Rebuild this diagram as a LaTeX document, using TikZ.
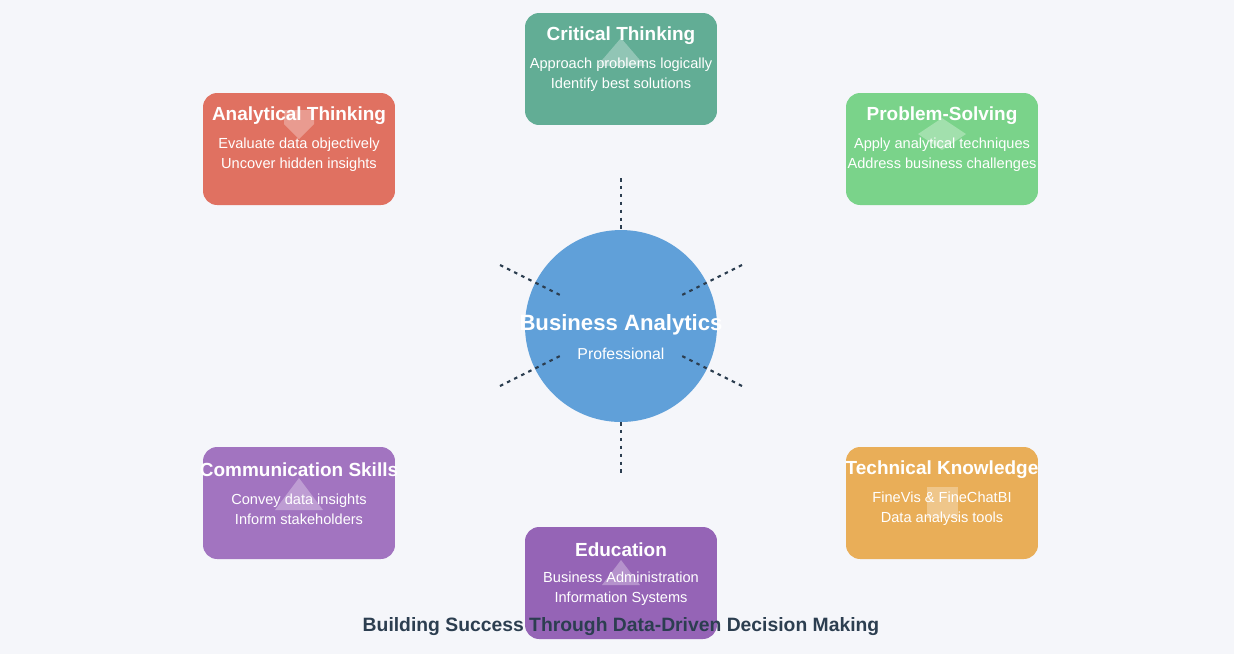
\documentclass[tikz,border=0pt]{standalone}
\usepackage{fontspec}
\setmainfont{Liberation Sans}
\usetikzlibrary{shapes.geometric}
\definecolor{bgcol}{HTML}{F5F6FA}
\definecolor{critcol}{HTML}{62AD95}
\definecolor{analcol}{HTML}{E07161}
\definecolor{probcol}{HTML}{7AD38A}
\definecolor{commcol}{HTML}{A274C0}
\definecolor{techcol}{HTML}{E9AE58}
\definecolor{educol}{HTML}{9564B6}
\definecolor{corecol}{HTML}{60A0D9}
\definecolor{darktext}{HTML}{2C3E50}
\tikzset{
  skillbox/.style={draw=none,fill=#1,rounded corners=8pt,minimum width=3.84cm,minimum height=2.24cm},
  ttl/.style={text=white,font=\fontsize{10.8}{13}\selectfont\bfseries},
  body/.style={text=white,font=\fontsize{8.3}{11.3}\selectfont,align=center},
  icon/.style={fill=white,fill opacity=0.3,draw=none},
  link/.style={draw=darktext,line width=1.2pt,dash pattern=on 2pt off 2.5pt}
}
\begin{document}
\begin{tikzpicture}[x=0.02cm,y=-0.02cm]
  \fill[bgcol] (0,0) rectangle (1234,654);
  \useasboundingbox (0,0) rectangle (1234,654);

  % centre
  \node[circle,fill=corecol,minimum size=3.84cm] (core) at (621,326) {};
  \node[ttl,font=\fontsize{12.6}{14}\selectfont\bfseries] (coretitle) at (621,325) {Business Analytics};
  \node[body,font=\fontsize{9}{11}\selectfont] (coresub) at (621,354) {Professional};

  % dotted spokes
  \coordinate (t1) at (621,178); \coordinate (t2) at (621,230);
  \coordinate (b1) at (621,422); \coordinate (b2) at (621,474);
  \coordinate (ul1) at (500,265); \coordinate (ul2) at (562,296);
  \coordinate (ur1) at (742,265); \coordinate (ur2) at (680,296);
  \coordinate (ll1) at (500,386); \coordinate (ll2) at (562,355);
  \coordinate (lr1) at (742,386); \coordinate (lr2) at (680,355);
  \foreach \a/\b in {t1/t2,b1/b2,ul1/ul2,ur1/ur2,ll1/ll2,lr1/lr2}
    \draw[link] (\a) -- (\b);

  % skill boxes
  \node[skillbox=critcol] (crit) at (621,69) {};
  \node[skillbox=analcol] (anal) at (299,149) {};
  \node[skillbox=probcol] (prob) at (942,149) {};
  \node[skillbox=commcol] (comm) at (299,503) {};
  \node[skillbox=techcol] (tech) at (942,503) {};
  \node[skillbox=educol] (edu) at (621,583) {};

  % icons
  \fill[icon] (621,38) -- (645,66) -- (597,66) -- cycle;
  \fill[icon] (284,110) -- (314,110) -- (314,124) -- (299,139) -- (284,124) -- cycle;
  \fill[icon] (942,118) -- (966,134) -- (942,150) -- (918,134) -- cycle;
  \fill[icon] (299,478) -- (323,510) -- (275,510) -- cycle;
  \fill[icon] (927,487) rectangle (958,518);
  \fill[icon] (621,560) -- (640,585) -- (602,585) -- cycle;

  % texts
  \node[ttl] (crit-t) at (621,36) {Critical Thinking};
  \node[body] (crit-b) at (621,75) {Approach problems logically\\Identify best solutions};
  \node[ttl] (anal-t) at (299,116) {Analytical Thinking};
  \node[body] (anal-b) at (299,155) {Evaluate data objectively\\Uncover hidden insights};
  \node[ttl] (prob-t) at (942,116) {Problem-Solving};
  \node[body] (prob-b) at (942,155) {Apply analytical techniques\\Address business challenges};
  \node[ttl] (comm-t) at (299,470) {Communication Skills};
  \node[body] (comm-b) at (299,509) {Convey data insights\\Inform stakeholders};
  \node[ttl] (tech-t) at (942,470) {Technical Knowledge};
  \node[body] (tech-b) at (942,509) {FineVis \& FineChatBI\\Data analysis tools};
  \node[ttl] (edu-t) at (621,550) {Education};
  \node[body] (edu-b) at (621,589) {Business Administration\\Information Systems};

  \node[text=darktext,font=\fontsize{11}{12}\selectfont\bfseries] (caption) at (621,627) {Building Success Through Data-Driven Decision Making};
\end{tikzpicture}
\end{document}
